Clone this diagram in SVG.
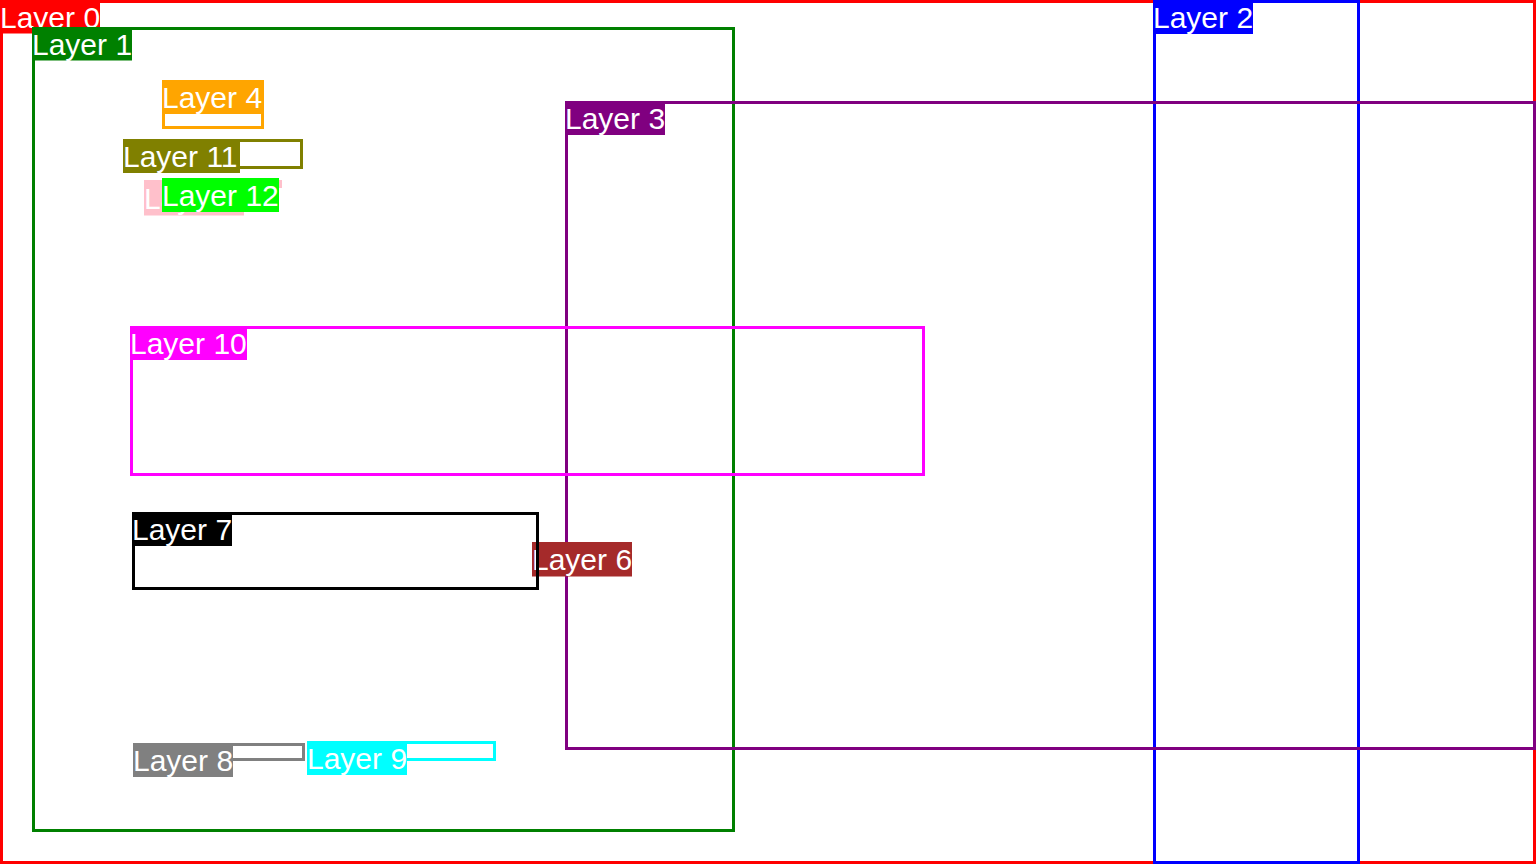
<svg xmlns="http://www.w3.org/2000/svg" width="1536" height="864" viewBox="0 0 1536 864">
<style>
.r{fill:none;stroke-width:3}
.t{font-family:"Liberation Sans",Arial,sans-serif;font-size:30px;fill:#fff}
</style>
<rect width="1536" height="864" fill="#fff"/>
<g id="layer0"><rect class="r" stroke="#f00" x="1.5" y="1.5" width="1533" height="861"/><rect fill="#f00" x="0" y="0" width="100" height="33.5"/><text class="t" x="0" y="28">Layer 0</text></g>
<g id="layer1"><rect class="r" stroke="#008000" x="33.5" y="28.5" width="700" height="802"/><rect fill="#008000" x="32" y="27" width="100" height="33.5"/><text class="t" x="32" y="55">Layer 1</text></g>
<g id="layer2"><rect class="r" stroke="#00f" x="1154.5" y="1.5" width="204" height="861"/><rect fill="#00f" x="1153" y="0" width="100" height="34"/><text class="t" x="1153" y="28">Layer 2</text></g>
<g id="layer3"><rect class="r" stroke="#800080" x="566.5" y="102.5" width="968" height="646"/><rect fill="#800080" x="565" y="101" width="100" height="34"/><text class="t" x="565" y="129">Layer 3</text></g>
<g id="layer4"><rect class="r" stroke="#ffa500" x="163.5" y="81.5" width="99" height="46"/><rect fill="#ffa500" x="162" y="80" width="100" height="34"/><text class="t" x="162" y="108">Layer 4</text></g>
<g id="layer5"><rect class="r" stroke="#ffc0cb" x="145.5" y="181.5" width="135" height="5"/><rect fill="#ffc0cb" x="144" y="181" width="100" height="34.5"/><text class="t" x="144" y="209">Layer 5</text></g>
<g id="layer6"><rect class="r" stroke="#a52a2a" x="533.5" y="543.5" width="60" height="20"/><rect fill="#a52a2a" x="532" y="542" width="100" height="34.5"/><text class="t" x="532" y="570">Layer 6</text></g>
<g id="layer7"><rect class="r" stroke="#000" x="133.5" y="513.5" width="404" height="75"/><rect fill="#000" x="132" y="512" width="100" height="34"/><text class="t" x="132" y="540">Layer 7</text></g>
<g id="layer8"><rect class="r" stroke="#808080" x="134.5" y="744.5" width="169" height="15"/><rect fill="#808080" x="133" y="743" width="100" height="34"/><text class="t" x="133" y="771">Layer 8</text></g>
<g id="layer9"><rect class="r" stroke="#0ff" x="308.5" y="742.5" width="186" height="17"/><rect fill="#0ff" x="307" y="741" width="100" height="34"/><text class="t" x="307" y="769">Layer 9</text></g>
<g id="layer10"><rect class="r" stroke="#f0f" x="131.5" y="327.5" width="792" height="147"/><rect fill="#f0f" x="130" y="326" width="117" height="34"/><text class="t" x="130" y="354">Layer 10</text></g>
<g id="layer11"><rect class="r" stroke="#808000" x="124.5" y="140.5" width="177" height="27"/><rect fill="#808000" x="123" y="139" width="117" height="34"/><text class="t" x="123" y="167">Layer 11</text></g>
<g id="layer12"><rect class="r" stroke="#0f0" x="163.5" y="179.5" width="100" height="20"/><rect fill="#0f0" x="162" y="178" width="117" height="34"/><text class="t" x="162" y="206">Layer 12</text></g>
</svg>
